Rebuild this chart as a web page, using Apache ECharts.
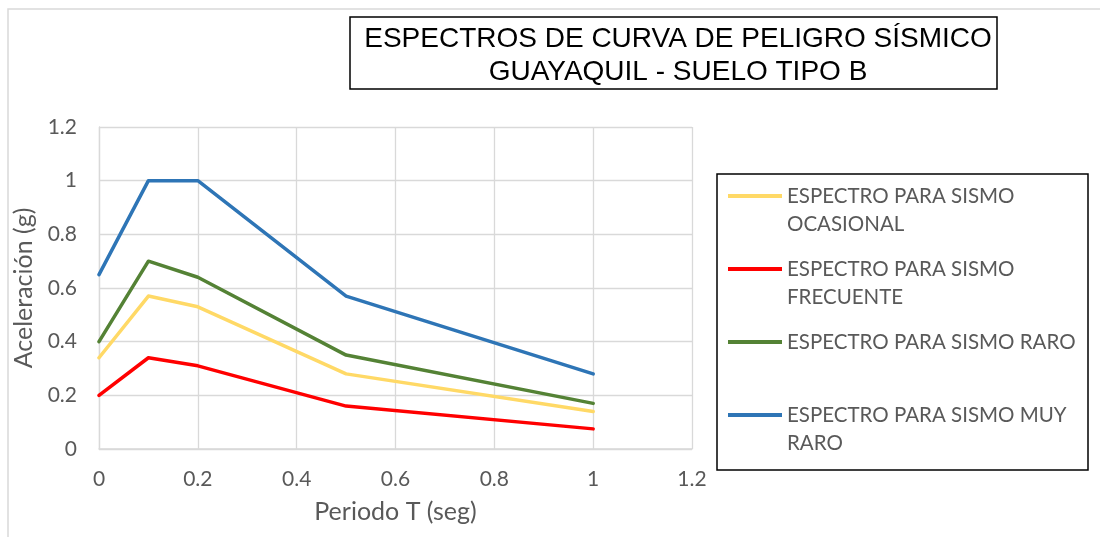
<!DOCTYPE html>
<html>
<head>
<meta charset="utf-8">
<script src="https://cdn.jsdelivr.net/npm/echarts@6/dist/echarts.min.js"></script>
<style>
  html, body { margin: 0; padding: 0; background: #fff; }
  #main { width: 1100px; height: 537px; }
</style>
</head>
<body>
<div id="main"></div>
<script>
// periodo T (seg)
const periods = [0, 0.1, 0.2, 0.5, 1];
// aceleracion (g)
const ocasional = [0.34, 0.57, 0.53, 0.28, 0.14];
const frecuente = [0.2, 0.34, 0.31, 0.16, 0.075];
const raro = [0.4, 0.7, 0.64, 0.35, 0.17];
const muyRaro = [0.65, 1.0, 1.0, 0.57, 0.28];

const seriesNames = [
  'ESPECTRO PARA SISMO\nOCASIONAL',
  'ESPECTRO PARA SISMO\nFRECUENTE',
  'ESPECTRO PARA SISMO RARO',
  'ESPECTRO PARA SISMO MUY\nRARO'
];
const seriesValues = [ocasional, frecuente, raro, muyRaro];
const seriesColors = ['#FFD966', '#FF0000', '#548235', '#2E75B6'];

const labelFont = 'Lato, Calibri, sans-serif';

function pairs(vals) {
  return periods.map((p, i) => [p, vals[i]]);
}

let myChart = echarts.init(document.getElementById('main'));
let option = {
  animation: false,
  title: {
    text: 'ESPECTROS DE CURVA DE PELIGRO SÍSMICO\nGUAYAQUIL - SUELO TIPO B',
    left: 673,
    top: 18,
    textAlign: 'center',
    textStyle: {
      fontFamily: '"Liberation Sans", Arial, sans-serif',
      fontSize: 28,
      fontWeight: 'normal',
      color: '#000',
      lineHeight: 33
    }
  },
  graphic: [
    { type: 'rect', shape: { x: 8, y: 9, width: 1100, height: 600 },
      style: { fill: 'none', stroke: '#d9d9d9', lineWidth: 1.5 }, silent: true, z: -1 },
    { type: 'rect', shape: { x: 350, y: 17, width: 647, height: 72 },
      style: { fill: 'none', stroke: '#000', lineWidth: 1.5 }, silent: true },
    { type: 'rect', shape: { x: 717, y: 174, width: 371, height: 296 },
      style: { fill: 'none', stroke: '#000', lineWidth: 1.5 }, silent: true }
  ],
  legend: {
    orient: 'vertical',
    left: 728,
    top: 154,
    padding: 0,
    itemGap: -11,
    itemWidth: 54,
    itemHeight: 4,
    icon: 'rect',
    // a blank first line keeps the icon level with the first text line
    formatter: n => ' \n' + n + (n.indexOf('\n') >= 0 ? '' : '\n '),
    textStyle: { fontFamily: labelFont, fontSize: 20.5, color: '#595959', lineHeight: 28 },
    data: seriesNames
  },
  grid: { left: 99, right: 408, top: 127, bottom: 88 },
  xAxis: {
    type: 'value',
    min: 0, max: 1.2, interval: 0.2,
    name: 'Periodo T (seg)',
    nameLocation: 'middle',
    nameGap: 50,
    nameTextStyle: { fontFamily: labelFont, fontSize: 25, color: '#595959' },
    axisLine: { lineStyle: { color: '#d9d9d9', width: 1.5 } },
    axisTick: { show: false },
    splitLine: { show: true, lineStyle: { color: '#d9d9d9', width: 1.3 } },
    axisLabel: { fontFamily: labelFont, fontSize: 21, color: '#595959', margin: 20 }
  },
  yAxis: {
    type: 'value',
    min: 0, max: 1.2, interval: 0.2,
    name: 'Aceleración (g)',
    nameLocation: 'middle',
    nameRotate: 90,
    nameGap: 53,
    nameTextStyle: { fontFamily: labelFont, fontSize: 25, color: '#595959' },
    axisLine: { show: true, lineStyle: { color: '#d9d9d9', width: 1.3 } },
    axisTick: { show: false },
    splitLine: { show: true, lineStyle: { color: '#d9d9d9', width: 1.3 } },
    axisLabel: { fontFamily: labelFont, fontSize: 21, color: '#595959', margin: 22 }
  },
  series: seriesNames.map((n, i) => ({
    name: n,
    type: 'line',
    data: pairs(seriesValues[i]),
    showSymbol: false,
    symbol: 'none',
    lineStyle: { color: seriesColors[i], width: 3.5, cap: 'round', join: 'round' },
    itemStyle: { color: seriesColors[i] }
  }))
};
myChart.setOption(option);
window.onresize = myChart.resize;
</script>
</body>
</html>
